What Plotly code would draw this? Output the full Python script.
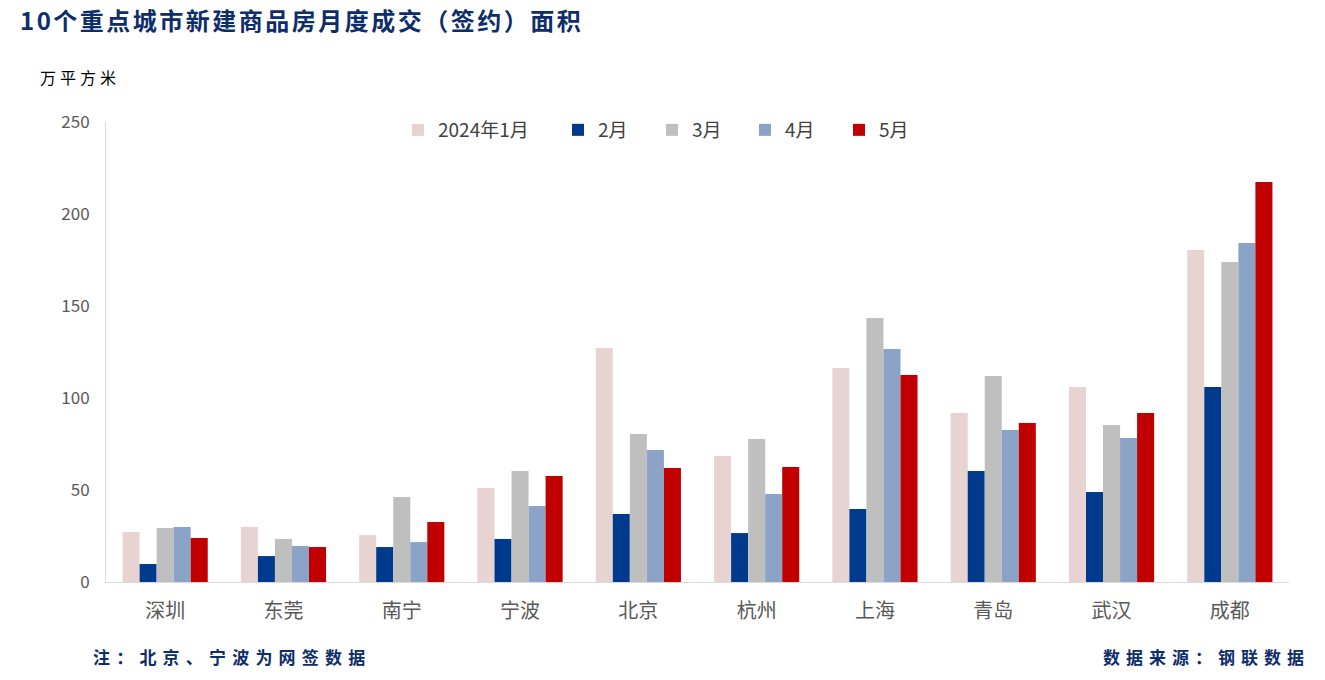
import plotly.graph_objects as go

# 数据（万平方米）
cities = ["深圳", "东莞", "南宁", "宁波", "北京", "杭州", "上海", "青岛", "武汉", "成都"]
jan = [27.2, 29.9, 25.5, 51.1, 127.2, 68.5, 116.3, 91.8, 106.0, 180.4]
feb = [9.8, 14.1, 19.0, 23.4, 37.0, 26.6, 39.7, 60.3, 48.9, 106.0]
mar = [29.3, 23.4, 46.2, 60.3, 80.4, 77.7, 143.5, 112.0, 85.3, 173.9]
apr = [29.9, 19.6, 21.7, 41.3, 71.7, 47.8, 126.6, 82.6, 78.3, 184.2]
may = [23.9, 19.0, 32.6, 57.6, 62.0, 62.5, 112.5, 86.4, 91.8, 217.4]

series_names = ["2024年1月", "2月", "3月", "4月", "5月"]
series_vals = [jan, feb, mar, apr, may]
colors = ["#E8D3D3", "#003A8C", "#BFBFBF", "#8BA3C7", "#C00000"]

font_cjk = "Noto Sans CJK SC, Noto Sans, sans-serif"
navy = "#0E2D6B"

# plot area in page pixels (body margin removed, figure at page origin)
FW, FH = 1325, 680
PL, PR, PT, PB = 106, 1289, 122, 582
PW, PH = PR - PL, PB - PT

def px(xp):
    return (xp - PL) / PW

def py(yp):
    return (PB - yp) / PH

# legend swatch left edges (page px)
leg_x = [412, 572, 666, 759, 853]
leg_ids = ["legend", "legend2", "legend3", "legend4", "legend5"]

fig = go.Figure()
for name, vals, c, lid in zip(series_names, series_vals, colors, leg_ids):
    fig.add_trace(go.Bar(x=cities, y=vals, name=name, legend=lid,
                         marker=dict(color=c, line=dict(width=0))))

layout_legends = {}
for lid, xp in zip(leg_ids, leg_x):
    layout_legends[lid] = dict(orientation="h", x=px(xp - 14), xanchor="left",
                               y=py(130), yanchor="middle", bgcolor="rgba(0,0,0,0)",
                               font=dict(size=19, color="#404040", family=font_cjk),
                               itemwidth=30)

fig.update_layout(
    width=FW, height=FH,
    paper_bgcolor="white", plot_bgcolor="white",
    barmode="group", bargap=0.28, bargroupgap=0,
    margin=dict(l=PL, r=FW - PR, t=PT, b=FH - PB),
    font=dict(family=font_cjk, color="#595959", size=17),
    title=dict(text="<span style='letter-spacing:2.5px'><b>10个重点城市新建商品房月度成交（签约）面积</b></span>",
               xref="container", yref="container", x=20 / FW, xanchor="left",
               y=1 - 22 / FH, yanchor="middle",
               font=dict(size=24, color=navy, family=font_cjk)),
    showlegend=True,
    **layout_legends,
)

fig.update_yaxes(range=[0, 250], dtick=50, showgrid=False, zeroline=False,
                 showline=True, linecolor="#D9D9D9", linewidth=1,
                 tickfont=dict(size=17, color="#595959"), ticks="", ticklabelstandoff=12)
fig.update_xaxes(showgrid=False, showline=True, linecolor="#D9D9D9", linewidth=1,
                 tickfont=dict(size=20, color="#595959"), ticks="", ticklabelstandoff=11)

# 单位与注释
fig.add_annotation(text="<span style='letter-spacing:4px'>万平方米</span>", xref="paper", yref="paper",
                   x=px(38), y=py(77), xanchor="left", yanchor="middle",
                   showarrow=False, font=dict(size=16, color="#000000", family=font_cjk))
fig.add_annotation(text="<span style='letter-spacing:6.2px'><b>注：北京、宁波为网签数据</b></span>",
                   xref="paper", yref="paper", x=px(91), y=py(656), xanchor="left", yanchor="middle",
                   showarrow=False, font=dict(size=17, color=navy, family=font_cjk))
fig.add_annotation(text="<span style='letter-spacing:6px'><b>数据来源：钢联数据</b></span>",
                   xref="paper", yref="paper", x=px(1312), y=py(656), xanchor="right", yanchor="middle",
                   showarrow=False, font=dict(size=17, color=navy, family=font_cjk))

fig.write_html("out.html", config={"displayModeBar": False},
               post_script="document.body.style.margin='0';")
